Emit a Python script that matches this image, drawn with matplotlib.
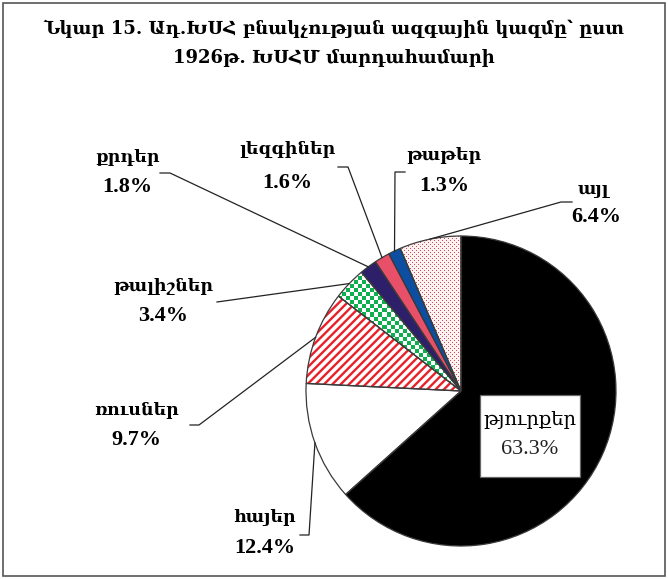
import numpy as np
import matplotlib.pyplot as plt
from matplotlib.patches import Rectangle

# data (1926 census, % of population)
groups = ["թյուրքեր", "հայեր", "ռուսներ", "թալիշներ", "քրդեր", "լեզգիներ", "թաթեր", "այլ"]
shares = [63.3, 12.4, 9.7, 3.4, 1.8, 1.6, 1.3, 6.4]

title = "Նկար 15. Ադ.ԽՍՀ բնակչության ազգային կազմը՝ ըստ\n1926թ. ԽՍՀՄ մարդահամարի"

# styles
faces = ["#000000", "#ffffff", "#ffffff", "#ffffff", "#2e1f6b", "#e8506a", "#0b4ea2", "#fdf2f2"]
hatches = [None, None, "////", None, None, None, None, None]
hatch_cols = [None, None, "#e8202a", None, None, None, None, None]

plt.rcParams["hatch.linewidth"] = 1.7

W, H = 668, 579
CX, CY, R = 461, H - 391, 155

fig = plt.figure(figsize=(W / 100, H / 100), dpi=100)
ax = fig.add_axes([0, 0, 1, 1])

FAM = ["Liberation Serif", "DejaVu Serif", "DejaVu Sans"]

# fill layer
wedges, _ = ax.pie(shares, center=(CX, CY), radius=R, startangle=90,
                   counterclock=False, colors=faces,
                   wedgeprops=dict(linewidth=0), frame=True)
for w, h, hc in zip(wedges, hatches, hatch_cols):
    if h:
        w.set_hatch(h)
        w.set_edgecolor(hc)

ext = (CX - R, CX + R, CY - R, CY + R)

# checkerboard for the green slice (4 px cells)
n = int(2 * R / 4)
yy, xx = np.mgrid[0:n, 0:n]
img = np.ones((n, n, 3))
img[(xx + yy) % 2 == 1] = [0.06, 0.69, 0.31]
im = ax.imshow(img, extent=ext, interpolation="nearest", zorder=1.5)
im.set_clip_path(wedges[groups.index("թալիշներ")])

# fine red dots for "other"
m = 2 * R
yy, xx = np.mgrid[0:m, 0:m]
dots = np.ones((m, m, 3)) * np.array([0.99, 0.95, 0.95])
mask = ((xx % 4 == 0) & (yy % 4 == 0)) | ((xx % 4 == 2) & (yy % 4 == 2))
dots[mask] = [0.82, 0.30, 0.36]
im2 = ax.imshow(dots, extent=ext, interpolation="nearest", zorder=1.5)
im2.set_clip_path(wedges[groups.index("այլ")])

# outline layer
ax.pie(shares, center=(CX, CY), radius=R, startangle=90, counterclock=False,
       colors=["none"] * len(shares),
       wedgeprops=dict(linewidth=0.9, edgecolor="#3a3a3a", zorder=2), frame=True)
ax.set_xlim(0, W)
ax.set_ylim(0, H)
ax.set_aspect("equal")
ax.axis("off")

# label layout: name centre, number centre, leader start + elbow
layout = {
    "հայեր": ((265, 517), (265, 548), [(300, 535), (309, 535)]),
    "ռուսներ": ((137, 410), (136, 440), [(190, 425), (199, 425)]),
    "թալիշներ": ((163, 286), (163, 316), [(217, 302)]),
    "քրդեր": ((127, 158), (127, 187), [(160, 173), (170, 173)]),
    "լեզգիներ": ((287, 149), (287, 183), [(338, 167), (348, 167)]),
    "թաթեր": ((444, 155), (444, 186), [(405, 172), (395, 172)]),
    "այլ": ((593, 190), (596, 217), [(572, 202), (561, 202)]),
}

cum = np.cumsum([0] + shares)
for i, (g, s) in enumerate(zip(groups, shares)):
    mid = (cum[i] + s / 2) / sum(shares) * 360
    ang = np.deg2rad(90 - mid)
    ex, ey = CX + R * np.cos(ang), CY + R * np.sin(ang)
    if g == "թյուրքեր":
        ax.add_patch(Rectangle((480, H - 477), 100, 82, fc="white",
                               ec="#666666", lw=0.9, zorder=4))
        ax.text(530, H - 420, g, ha="center", va="center", fontsize=14,
                family=FAM, zorder=5)
        ax.text(530, H - 450, f"{s:.1f}%", ha="center", va="center",
                fontsize=16, family=FAM, color="#222222", zorder=5)
        continue
    (nx, ny), (px, py), pts = layout[g]
    xs = [p[0] for p in pts] + [ex]
    ys = [H - p[1] for p in pts] + [ey]
    ax.plot(xs, ys, color="#222222", lw=0.9, zorder=3)
    ax.text(nx, H - ny, g, ha="center", va="center",
            fontsize=12.5, fontweight="bold", family=FAM)
    ax.text(px, H - py, f"{s:.1f}%", ha="center", va="center",
            fontsize=16, fontweight="bold", family=FAM)

ax.text(W / 2, H - 43, title, ha="center", va="center", fontsize=13,
        fontweight="bold", family=["DejaVu Serif", "DejaVu Sans"],
        linespacing=1.8)

fig.add_artist(Rectangle((3 / W, 3 / H), (W - 6) / W, (H - 6) / H,
                         transform=fig.transFigure, fill=False,
                         ec="#555555", lw=1.2))

fig.savefig("out.png", dpi=100)
